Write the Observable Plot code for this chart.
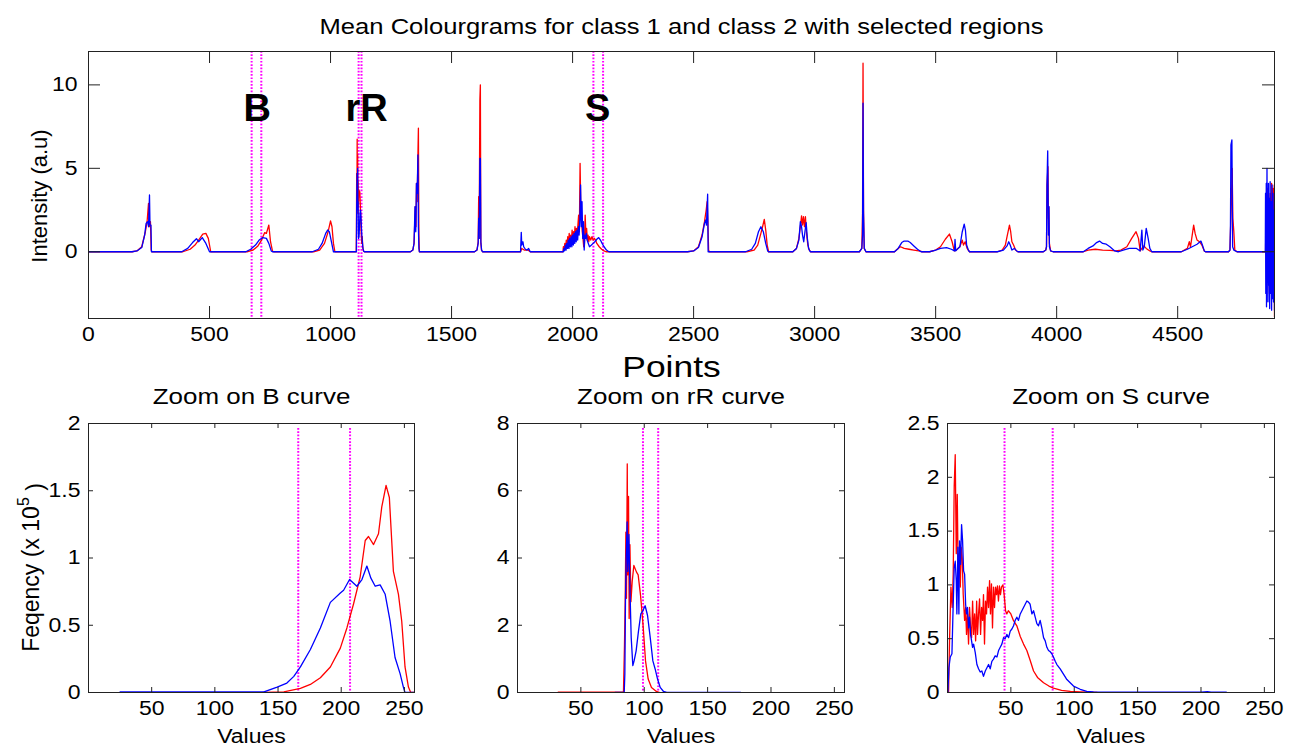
<!DOCTYPE html>
<html><head><meta charset="utf-8">
<script src="https://cdn.jsdelivr.net/npm/d3@7"></script>
<script src="https://cdn.jsdelivr.net/npm/@observablehq/plot@0.6"></script>
<style>
html,body{margin:0;padding:0;background:#fff;}
#chart{position:relative;width:1289px;height:749px;overflow:hidden;}
#chart > svg{position:absolute;}
</style></head><body><div id="chart"></div>
<script>
// ---------------- DATA ----------------
const mainTitle = "Mean Colourgrams for class 1 and class 2 with selected regions";
const topXTicks = [0, 500, 1000, 1500, 2000, 2500, 3000, 3500, 4000, 4500];
const topYTicks = [0, 5, 10];
const regionLines = [674, 714, 1116, 1128, 2086, 2126];
const regionNames = ["B", "rR", "S"];
const regionLabelX = [697, 1149, 2104];

// class 1 (red) mean colourgram: [point, intensity]
const topClass1 = [[0,0],[180,0],[200,0.05],[220,0.3],[235,1.2],[242,1.8],[248,2.9],[252,1.5],[256,1.8],[259,0.1],[262,0],
[390,0],[420,0.15],[440,0.4],[460,0.8],[472,1.05],[485,1.1],[495,0.8],[505,0],
[655,0],[680,0.1],[700,0.35],[715,0.7],[728,1.15],[735,1.1],[745,1.6],[752,0.6],[760,0.05],[765,0],
[930,0],[955,0.1],[975,0.5],[990,1.2],[1000,1.85],[1006,1.5],[1012,0.5],[1018,0],
[1106,0],[1107,1.4],[1108,4.7],[1109,2.8],[1110,6.75],[1111,3.6],[1112,5.8],[1113,2.3],[1114,4.2],[1115,2.7],[1117,3.7],[1119,3.6],[1121,3.6],[1123,2.8],[1125,1.8],[1127,1.0],[1129,0.5],[1131,0.9],[1133,0.3],[1136,0.05],[1140,0],
[1330,0],[1340,0.1],[1345,0.5],[1350,2.7],[1353,1.5],[1355,4.1],[1358,3.0],[1361,5.8],[1363,7.4],[1365,1.0],[1367,0],
[1595,0],[1605,0.1],[1610,0.6],[1612,3.3],[1614,0.8],[1617,9.1],[1619,10.0],[1621,0.5],[1624,0.1],[1628,0],
[1785,0],[1790,0.2],[1800,0.1],[1815,0.1],[1825,0],
[1950,0],[1960,0],[1962,0.3],[1965,0.1],[1968,0.5],[1971,0.2],[1974,0.7],[1977,0.3],[1980,0.9],[1983,0.4],[1986,1.1],[1989,0.5],[1992,1.0],[1995,0.6],[1998,1.3],[2001,0.7],[2004,1.2],[2007,0.8],[2010,1.5],[2013,0.8],[2016,1.4],[2019,1.0],[2022,1.6],[2025,2.2],[2028,1.2],[2031,5.3],[2034,2.5],[2037,2.0],[2040,1.2],[2043,0.8],[2046,0.3],[2049,0.5],[2052,2.2],[2055,1.0],[2058,1.4],[2061,0.7],[2064,1.0],[2067,0.6],[2070,0.9],[2075,0.7],[2080,0.9],[2085,0.7],[2090,0.8],[2095,0.7],[2100,0.5],[2110,0.3],[2120,0.15],[2130,0.05],[2138,0],
[2475,0],[2500,0.05],[2520,0.3],[2535,1.0],[2545,1.8],[2552,2.5],[2556,3.0],[2559,1.8],[2562,0.1],[2565,0],
[2720,0],[2750,0.1],[2765,0.4],[2778,1.1],[2785,1.5],[2792,1.94],[2798,1.3],[2804,0.4],[2810,0],
[2910,0],[2925,0.2],[2935,0.8],[2942,1.6],[2946,2.15],[2950,1.6],[2954,2.1],[2958,1.5],[2962,2.1],[2966,1.2],[2972,0.4],[2978,0.1],[2984,0],
[3185,0],[3195,0.2],[3198,2.3],[3200,11.3],[3202,2.5],[3205,0.2],[3212,0],
[3330,0],[3345,0.2],[3355,0.3],[3370,0.2],[3390,0.15],[3410,0.1],[3430,0.05],[3445,0],
[3475,0],[3500,0.1],[3520,0.3],[3540,0.75],[3557,1.06],[3568,0.6],[3577,0.05],[3585,0.1],[3600,0.3],[3610,0.7],[3615,0.4],[3622,0.6],[3630,0.2],[3640,0],
[3755,0],[3775,0.1],[3788,0.4],[3795,0.9],[3805,1.6],[3810,1.2],[3815,0.6],[3822,0.4],[3830,0.1],[3840,0],
[3945,0],[3955,0.1],[3958,0.3],[3960,4.0],[3964,5.1],[3966,2.0],[3968,2.7],[3970,0.5],[3975,0.05],[3985,0],
[4110,0],[4130,0.1],[4160,0.15],[4190,0.1],[4220,0.08],[4245,0.05],[4265,0.1],[4290,0.3],[4310,0.8],[4328,1.2],[4338,0.8],[4345,0.05],[4352,0.2],[4360,0.35],[4370,0.2],[4385,0.05],[4393,0],
[4515,0],[4540,0.2],[4548,0.6],[4553,0.3],[4560,1.0],[4566,1.6],[4572,1.1],[4580,0.7],[4590,0.6],[4600,0.4],[4610,0.05],[4615,0],
[4710,0],[4716,0.1],[4718,1.2],[4722,3.0],[4725,5.0],[4728,2.0],[4732,1.2],[4736,0.1],[4745,0],
[4858,0],[4863,0],[4865,3.0],[4867,-2.0],[4870,3.8],[4873,-1.5],[4876,0.5],[4879,-2.5],[4882,3.5],[4885,-2.0],[4888,4.1],[4891,-1.0],[4894,3.8],[4897,-3.0],[4899,4.0],[4900,-3.9]];

// class 2 (blue) mean colourgram
const topClass2 = [[0,0],[180,0],[200,0.05],[220,0.25],[232,1.0],[238,1.7],[244,1.8],[248,1.5],[252,3.4],[254,1.6],[258,1.6],[260,0],
[385,0],[410,0.2],[430,0.55],[446,0.78],[455,0.6],[470,0.85],[485,0.5],[500,0],
[650,0],[670,0.15],[690,0.4],[705,0.7],[720,0.85],[735,0.8],[745,0.5],[755,0.05],[760,0],
[925,0],[950,0.15],[965,0.5],[980,1.1],[988,1.3],[995,1.2],[1005,0.5],[1012,0],
[1107,0],[1108,2.7],[1110,4.7],[1111,3.5],[1112,5.0],[1113,2.5],[1114,3.0],[1115,1.2],[1116,0.8],[1118,1.0],[1120,1.7],[1122,2.3],[1124,2.5],[1126,2.0],[1128,1.3],[1130,0.8],[1132,0.5],[1134,0.2],[1137,0.03],[1140,0],
[1330,0],[1340,0.1],[1345,0.5],[1349,2.7],[1352,1.2],[1355,4.1],[1358,3.5],[1361,5.8],[1363,1.5],[1365,0.2],[1367,0],
[1595,0],[1605,0.1],[1610,0.5],[1612,2.0],[1614,0.8],[1617,5.6],[1619,5.6],[1621,0.6],[1624,0.1],[1628,0],
[1785,0],[1788,1.16],[1790,0.4],[1795,0.6],[1798,0.3],[1805,0.15],[1812,0.1],[1818,0.2],[1825,0],
[1950,0],[1962,0],[1964,0.2],[1967,0.05],[1970,0.4],[1973,0.1],[1976,0.5],[1979,0.2],[1982,0.7],[1985,0.2],[1988,0.8],[1991,0.3],[1994,0.9],[1997,0.3],[2000,1.0],[2003,0.4],[2006,1.1],[2009,0.5],[2012,1.2],[2015,0.6],[2018,1.3],[2021,0.7],[2024,1.5],[2027,1.0],[2030,1.9],[2033,4.0],[2036,1.5],[2039,3.0],[2042,0.8],[2045,1.8],[2048,0.1],[2051,1.0],[2054,0.8],[2057,1.1],[2060,0.7],[2065,0.5],[2070,0.3],[2078,0.4],[2085,0.5],[2092,0.6],[2100,0.75],[2108,0.85],[2115,0.7],[2122,0.5],[2130,0.3],[2140,0.1],[2150,0],
[2475,0],[2500,0.05],[2520,0.25],[2535,0.9],[2545,1.7],[2550,1.9],[2553,1.6],[2558,3.45],[2560,0],
[2715,0],[2740,0.15],[2755,0.5],[2768,1.2],[2778,1.5],[2788,1.2],[2798,0.5],[2806,0.05],[2810,0],
[2910,0],[2925,0.2],[2935,0.7],[2941,1.8],[2946,1.5],[2950,1.0],[2955,0.6],[2960,1.2],[2965,1.75],[2970,0.8],[2975,0.2],[2982,0],
[3185,0],[3195,0.2],[3198,1.0],[3200,8.9],[3202,2.3],[3205,0.2],[3212,0],
[3330,0],[3345,0.2],[3360,0.55],[3370,0.64],[3385,0.64],[3395,0.55],[3410,0.35],[3425,0.15],[3440,0],
[3475,0],[3500,0.1],[3520,0.2],[3545,0.25],[3565,0.15],[3578,0.05],[3580,0.74],[3583,0.05],[3600,0.3],[3610,1.2],[3618,1.66],[3623,1.3],[3628,0.4],[3635,0.1],[3640,0],
[3755,0],[3780,0.1],[3795,0.35],[3802,0.6],[3808,0.4],[3815,0.1],[3825,0.2],[3835,0.05],[3840,0],
[3945,0],[3955,0.1],[3958,0.3],[3960,4.0],[3963,6.05],[3966,1.0],[3968,2.7],[3970,0.3],[3975,0.05],[3985,0],
[4110,0],[4130,0.2],[4150,0.35],[4165,0.55],[4177,0.64],[4190,0.5],[4205,0.45],[4220,0.3],[4240,0.05],[4255,0],[4275,0.1],[4300,0.2],[4330,0.2],[4345,0.05],[4352,1.3],[4356,0.1],[4362,0.3],[4370,1.4],[4378,0.8],[4385,0.2],[4393,0],
[4515,0],[4540,0.15],[4560,0.3],[4580,0.45],[4596,0.64],[4602,0.4],[4610,0.05],[4615,0],
[4710,0],[4716,0.1],[4718,1.5],[4720,6.4],[4724,6.7],[4727,0.3],[4732,0.1],[4745,0],
[4858,0],[4862,0],[4863,3.5],[4864,-2.5],[4866,4.1],[4867,-3.3],[4869,5.0],[4870,-1.5],[4872,3.0],[4873,-3.0],[4875,4.1],[4876,-2.0],[4878,3.2],[4880,-3.4],[4882,4.2],[4884,-2.5],[4886,3.0],[4888,-3.5],[4890,4.0],[4892,-2.8],[4894,3.5],[4896,-3.0],[4898,2.5],[4900,-3.5]];

// zoom panels: [value, frequency x 1e5]
const histXTicks = [50, 100, 150, 200, 250];

const bTitle = "Zoom on B curve";
const bYTicks = [0, 0.5, 1, 1.5, 2];
const bLines = [166, 207];
const bClass1 = [[138,0],[154.6,0.005],[167.7,0.03],[175.6,0.06],[183.5,0.11],[191.4,0.19],[199.3,0.33],[204.5,0.48],[209.8,0.66],[215,0.86],[219,1.13],[221.6,1.16],[225.6,1.10],[229.5,1.18],[232.1,1.38],[235.5,1.54],[238.1,1.45],[241.3,0.9],[245.3,0.73],[247.9,0.53],[250.5,0.19],[253.2,0.04],[255,0],[258,0]];
const bClass2 = [[25,0.004],[138.8,0.004],[149.3,0.04],[157,0.07],[162.5,0.12],[167.7,0.19],[175.6,0.32],[183.5,0.48],[191.4,0.67],[199.3,0.74],[201.9,0.76],[206.6,0.84],[212.4,0.79],[216.4,0.84],[220.3,0.94],[223.5,0.85],[226.9,0.79],[230.8,0.8],[234.8,0.73],[238.7,0.53],[242.6,0.26],[246.6,0.14],[249.2,0.04],[250.5,0],[258,0]];

const rTitle = "Zoom on rR curve";
const rYTicks = [0, 2, 4, 6, 8];
const rLines = [99, 111];
const rClass1 = [[32,0.01],[83.6,0.01],[84.4,1.4],[85,2.8],[85.5,4.77],[86,2.8],[86.6,6.8],[87,3.5],[87.6,5.83],[88.1,2.2],[88.7,4.4],[89.5,2.7],[90.5,3.3],[91.8,3.78],[93.9,3.58],[95.2,3.5],[97.1,2.88],[99.2,1.94],[101,0.94],[103.1,0.4],[105.7,0.15],[109.6,0.03],[112.3,0]];
const rClass2 = [[77,0.005],[84.2,0.005],[84.7,0.55],[85.2,2.73],[85.7,3.9],[86.5,5.07],[87,3.6],[87.9,4.7],[88.7,3.1],[89.7,1.64],[91,0.8],[92,0.94],[93.6,1.24],[95.5,1.84],[97.3,2.34],[98.9,2.43],[100.7,2.58],[102.6,2.29],[104.7,1.64],[106.8,0.94],[108.6,0.7],[110.5,0.4],[112.6,0.15],[115.2,0.03],[117.8,0.005],[176,0.005]];

const sTitle = "Zoom on S curve";
const sYTicks = [0, 0.5, 1, 1.5, 2, 2.5];
const sLines = [45, 83];
const sClass1 = [[0.85,0],[1.6,0.48],[2.7,0.98],[3.7,0.79],[4.5,1.1],[5.3,1.92],[6.1,2.21],[6.9,1.29],[7.7,1.84],[8.5,1.04],[9.3,1.29],[10.1,0.98],[10.8,1.35],[11.6,1.25],[12.4,0.91],[13.5,0.67],[14.3,0.79],[15.0,0.54],[15.8,0.73],[16.6,0.45],[17.4,0.79],[18.2,0.6],[19.0,0.51],[19.8,0.85],[20.6,0.54],[21.4,0.73],[22.2,0.48],[23.0,0.85],[23.7,0.54],[24.5,0.73],[25.3,0.87],[26.1,0.54],[26.9,0.79],[27.7,0.67],[28.4,0.91],[29.2,0.45],[30,0.85],[30.8,0.73],[31.6,0.98],[32.4,0.79],[33.2,1.04],[33.9,0.73],[34.7,1.01],[35.5,0.6],[36.3,0.98],[37.1,0.79],[37.9,0.98],[38.7,0.91],[39.4,0.99],[40.2,0.85],[41,0.99],[41.8,0.91],[42.6,0.98],[43.7,1.0],[44.7,0.91],[45.8,0.76],[46.8,0.73],[48,0.76],[50,0.73],[52,0.67],[54.7,0.62],[57.4,0.52],[60,0.45],[62.6,0.39],[65.2,0.3],[67.9,0.2],[71,0.14],[75.8,0.09],[80,0.06],[83.6,0.04],[90,0.02],[97,0.01],[105,0.005],[118,0]];
const sClass2 = [[0.3,0],[1.1,0.23],[2.2,0.33],[3.5,0.36],[4.3,0.73],[5.3,1.16],[6.1,1.22],[6.9,1.04],[7.4,0.73],[8.2,1.35],[9.0,0.73],[9.5,1.41],[10.3,1.19],[11.1,1.56],[11.9,1.41],[12.7,1.13],[13.5,1.10],[14.3,0.82],[15.0,0.73],[15.8,0.79],[16.6,0.60],[17.4,0.70],[18.2,0.54],[19.0,0.48],[19.8,0.42],[20.6,0.45],[21.9,0.37],[23.2,0.26],[24.5,0.22],[25.8,0.19],[27.1,0.2],[28.4,0.15],[29.8,0.2],[31.1,0.23],[32.4,0.26],[33.7,0.22],[35.0,0.29],[36.3,0.31],[37.6,0.34],[39.0,0.33],[40.3,0.39],[41.6,0.42],[42.9,0.45],[44.2,0.51],[45.5,0.5],[46.8,0.54],[48.2,0.51],[49.5,0.57],[50.8,0.59],[52.1,0.62],[53.4,0.67],[54.7,0.70],[56.0,0.67],[57.4,0.73],[58.7,0.76],[60.0,0.79],[61.3,0.82],[62.6,0.85],[63.9,0.84],[65.2,0.82],[66.6,0.73],[67.9,0.76],[69.2,0.70],[70.5,0.64],[71.8,0.62],[73.1,0.67],[74.4,0.6],[75.8,0.51],[77.1,0.48],[78.4,0.42],[79.7,0.39],[81.0,0.38],[82.3,0.36],[83.6,0.33],[85,0.29],[86.3,0.26],[88.9,0.22],[91.5,0.17],[94.2,0.12],[96.8,0.09],[99.4,0.06],[104.7,0.03],[109.9,0.01],[115.2,0.006],[128.3,0.004],[200,0.004],[205,0.008],[208,0.004],[220,0.004]];

// ---------------- STYLE ----------------
const FONT = '"Liberation Sans", Arial, Helvetica, sans-serif';
const RED = "#ff0000", BLUE = "#0000ff", MAG = "#ff00ff", AX = "#222";
const STRETCH = 1.18;
const fx = d => d[0], fy = d => d[1];

function inwardTicks(xt, yt, fw, fh, len) {
  return [
    Plot.tickX(xt, {x: d => d, insetTop: fh - len, stroke: AX}),
    Plot.tickX(xt, {x: d => d, insetBottom: fh - len, stroke: AX}),
    Plot.tickY(yt, {y: d => d, insetRight: fw - len, stroke: AX}),
    Plot.tickY(yt, {y: d => d, insetLeft: fw - len, stroke: AX})
  ];
}

function stretchTexts(svg) {
  svg.querySelectorAll("text").forEach(t => {
    const tr = t.getAttribute("transform") || "";
    if (tr.includes("rotate")) return;
    const fw = getComputedStyle(t).fontWeight;
    if (+fw >= 600 || fw === "bold") return;
    const L = t.getComputedTextLength();
    if (L > 0) { t.setAttribute("textLength", (L * STRETCH).toFixed(2)); t.setAttribute("lengthAdjust", "spacingAndGlyphs"); }
  });
}

const chart = document.getElementById("chart");
function place(svg, left, top) { svg.style.left = left + "px"; svg.style.top = top + "px"; chart.appendChild(svg); stretchTexts(svg); }

// ---------------- TOP PANEL ----------------
{
  const W = 1289, H = 380, mL = 88, mR = 15, mT = 51, mB = 62;
  const fw = W - mL - mR, fh = H - mT - mB;
  const p = Plot.plot({
    width: W, height: H, marginLeft: mL, marginRight: mR, marginTop: mT, marginBottom: mB,
    x: {domain: [0, 4900]}, y: {domain: [-4, 12]},
    style: {fontFamily: FONT, fontSize: "20px", background: "transparent", color: "#000", overflow: "visible"},
    marks: [
      Plot.ruleX(regionLines, {x: d => d, stroke: MAG, strokeWidth: 2, strokeDasharray: "1.7,1.6"}),
      Plot.line(topClass1, {x: fx, y: fy, stroke: RED, strokeWidth: 1.3, clip: true}),
      Plot.line(topClass2, {x: fx, y: fy, stroke: BLUE, strokeWidth: 1.3, clip: true}),
      ...inwardTicks(topXTicks, topYTicks, fw, fh, 12),
      Plot.frame({stroke: AX}),
      Plot.axisX({ticks: topXTicks, tickSize: 0, tickPadding: 9, tickFormat: d => String(d), label: null, fontSize: 19.5}),
      Plot.axisY({ticks: topYTicks, tickSize: 0, tickPadding: 11, tickFormat: d => String(d), label: null, fontSize: 19.5}),
      Plot.text(regionNames, {x: regionLabelX, y: () => 7.83, text: d => d, fontWeight: "bold", fontSize: 38, lineAnchor: "bottom", fill: "#000"}),
      Plot.text([mainTitle], {frameAnchor: "top", dy: -18, lineAnchor: "bottom", fontSize: 21.7, fill: "#000"}),
      Plot.text(["Points"], {frameAnchor: "bottom", dx: -10, dy: 58, lineAnchor: "bottom", fontSize: 30, fill: "#000"}),
      Plot.text(["Intensity (a.u)"], {frameAnchor: "left", textAnchor: "middle", dx: -42, dy: 11, rotate: -90, lineAnchor: "bottom", fontSize: 22, fill: "#000"})
    ]
  });
  place(p, 0, 0);
}

// ---------------- ZOOM PANELS ----------------
function zoomPanel({left, width, mL, mR, title, c1, c2, yDomain, yTicks, lines, yLabel}) {
  const H = 369, mT = 43, mB = 57;
  const fw = width - mL - mR, fh = H - mT - mB;
  const p = Plot.plot({
    width, height: H, marginLeft: mL, marginRight: mR, marginTop: mT, marginBottom: mB,
    x: {domain: [0, 258]}, y: {domain: yDomain},
    style: {fontFamily: FONT, fontSize: "20px", background: "transparent", color: "#000", overflow: "visible"},
    marks: [
      Plot.ruleX(lines, {x: d => d, stroke: MAG, strokeWidth: 2, strokeDasharray: "1.7,1.6", insetTop: 5}),
      Plot.line(c1, {x: fx, y: fy, stroke: RED, strokeWidth: 1.3, clip: true}),
      Plot.line(c2, {x: fx, y: fy, stroke: BLUE, strokeWidth: 1.3, clip: true}),
      ...inwardTicks(histXTicks, yTicks, fw, fh, 5),
      Plot.frame({stroke: AX}),
      Plot.axisX({ticks: histXTicks, tickSize: 0, tickPadding: 9, tickFormat: d => String(d), label: null, fontSize: 19.5}),
      Plot.axisY({ticks: yTicks, tickSize: 0, tickPadding: 8, tickFormat: d => String(d), label: null, fontSize: 19.5}),
      Plot.text([title], {frameAnchor: "top", dy: -20, lineAnchor: "bottom", fontSize: 22, fill: "#000"}),
      Plot.text(["Values"], {frameAnchor: "bottom", dy: 50, lineAnchor: "bottom", fontSize: 19.5, fill: "#000"})
    ]
  });
  if (yLabel) {
    const cx = mL - 49, cy = mT + fh / 2 + 10;
    const t = d3.select(p).append("text")
      .attr("transform", `translate(${cx},${cy}) rotate(-90)`)
      .attr("text-anchor", "middle").attr("font-size", 23).attr("fill", "#000");
    t.append("tspan").text("Feqency (x 10");
    t.append("tspan").attr("dy", "-0.6em").attr("font-size", 16).text("5");
    t.append("tspan").attr("dy", "0.6em").text(" )");
  }
  place(p, left, 380);
}

zoomPanel({left: 0, width: 430, mL: 88, mR: 16, title: bTitle, c1: bClass1, c2: bClass2, yDomain: [0, 2], yTicks: bYTicks, lines: bLines, yLabel: true});
zoomPanel({left: 430, width: 430, mL: 87, mR: 16, title: rTitle, c1: rClass1, c2: rClass2, yDomain: [0, 8], yTicks: rYTicks, lines: rLines});
zoomPanel({left: 860, width: 429, mL: 87, mR: 15, title: sTitle, c1: sClass1, c2: sClass2, yDomain: [0, 2.5], yTicks: sYTicks, lines: sLines});
</script></body></html>
